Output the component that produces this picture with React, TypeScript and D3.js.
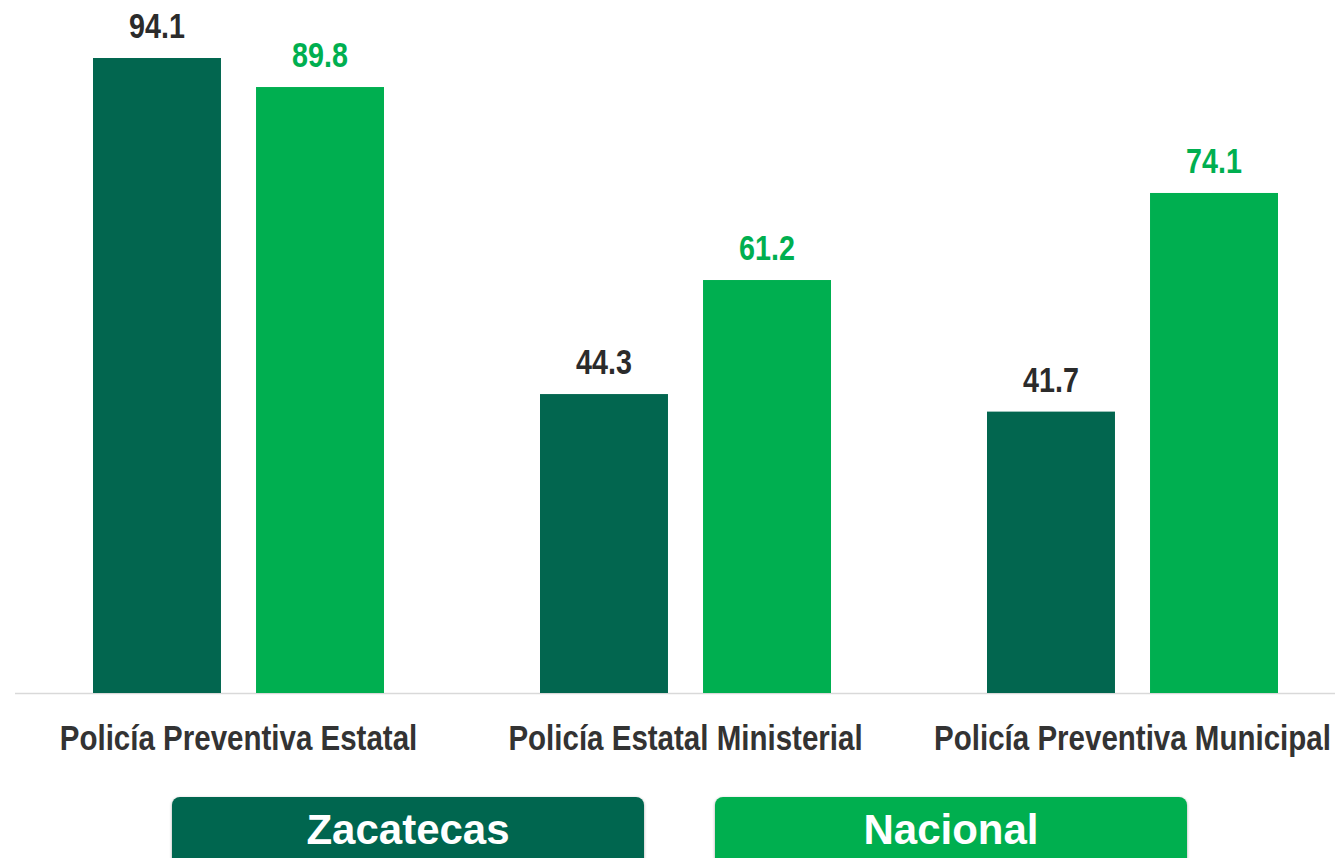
import React, { useEffect, useRef } from 'react';
import * as d3 from 'd3';

const categories = ['Policía Preventiva Estatal', 'Policía Estatal Ministerial', 'Policía Preventiva Municipal'];
const seriesNames = ['Zacatecas', 'Nacional'];
const zacatecas = [94.1, 44.3, 41.7];
const nacional = [89.8, 61.2, 74.1];

const colors = { Zacatecas: '#02664f', Nacional: '#00af50' };
const labelColors = { Zacatecas: '#2b2b2b', Nacional: '#00af50' };

const App = () => {
  const svgRef = useRef<SVGSVGElement>(null);

  useEffect(() => {
    const width = 1335;
    const height = 858;
    const baseline = 693;
    const narrow = 0.82; // fake a narrow face by squeezing Liberation Sans

    const svg = d3.select(svgRef.current);
    svg.selectAll('*').remove();
    svg.attr('width', width).attr('height', height);

    const defs = svg.append('defs');
    const f = defs.append('filter').attr('id', 'shadow').attr('x', '-5%').attr('y', '-20%').attr('width', '110%').attr('height', '150%');
    f.append('feDropShadow').attr('dx', 0).attr('dy', 1).attr('stdDeviation', 1.5).attr('flood-color', '#000').attr('flood-opacity', 0.35);

    const x0 = d3.scaleBand().domain(categories).range([15, 1356]).paddingInner(0.349).paddingOuter(0.1745);
    const x1 = d3.scaleBand().domain(seriesNames).range([0, x0.bandwidth()]).paddingInner(0.215).paddingOuter(0);
    const y = d3.scaleLinear().domain([0, 100]).range([baseline, baseline - 674.8]);

    const rows = categories.map((c, i) => ({ category: c, values: [
      { key: 'Zacatecas', value: zacatecas[i] },
      { key: 'Nacional', value: nacional[i] },
    ] }));

    // baseline
    svg.append('line')
      .attr('x1', 15).attr('x2', width)
      .attr('y1', baseline + 0.5).attr('y2', baseline + 0.5)
      .attr('stroke', '#d9d9d9').attr('stroke-width', 1.5);

    const groups = svg.append('g').selectAll('g')
      .data(rows)
      .join('g')
      .attr('transform', d => `translate(${x0(d.category)},0)`);

    groups.selectAll('rect')
      .data(d => d.values)
      .join('rect')
      .attr('x', d => x1(d.key)!)
      .attr('y', d => y(d.value))
      .attr('width', x1.bandwidth())
      .attr('height', d => baseline - y(d.value))
      .attr('fill', d => colors[d.key]);

    groups.selectAll('text.val')
      .data(d => d.values)
      .join('text')
      .attr('class', 'val')
      .attr('transform', d => `translate(${x1(d.key)! + x1.bandwidth() / 2},${y(d.value) - 20}) scale(${narrow},1)`)
      .attr('text-anchor', 'middle')
      .attr('font-family', '"Liberation Sans", Arial, sans-serif')
      .attr('font-weight', 'bold')
      .attr('font-size', 35)
      .attr('fill', d => labelColors[d.key])
      .text(d => d.value.toFixed(1));

    // category labels
    svg.append('g').selectAll('text')
      .data(categories)
      .join('text')
      .attr('transform', d => `translate(${x0(d)! + x0.bandwidth() / 2},750) scale(${narrow},1)`)
      .attr('text-anchor', 'middle')
      .attr('font-family', '"Liberation Sans", Arial, sans-serif')
      .attr('font-weight', 'bold')
      .attr('font-size', 36)
      .attr('fill', '#333')
      .text(d => d);

    // legend boxes
    const legendX = d3.scaleOrdinal<string, number>().domain(seriesNames).range([172, 715]);
    const legend = svg.append('g').selectAll('g')
      .data(seriesNames)
      .join('g')
      .attr('transform', d => `translate(${legendX(d)},797)`);

    legend.append('rect')
      .attr('width', 472)
      .attr('height', 75)
      .attr('rx', 8)
      .attr('fill', d => colors[d])
      .attr('filter', 'url(#shadow)');

    legend.append('text')
      .attr('x', 236)
      .attr('y', 47)
      .attr('text-anchor', 'middle')
      .attr('font-family', '"Liberation Sans", Arial, sans-serif')
      .attr('font-weight', 'bold')
      .attr('font-size', 42)
      .attr('fill', '#fff')
      .text(d => d);
  }, []);

  return (
    <div style={{ position: 'absolute', left: 0, top: 0, width: 1335, height: 858, overflow: 'hidden', background: '#fff' }}>
      <svg ref={svgRef} style={{ display: 'block' }}></svg>
    </div>
  );
};

export default App;
